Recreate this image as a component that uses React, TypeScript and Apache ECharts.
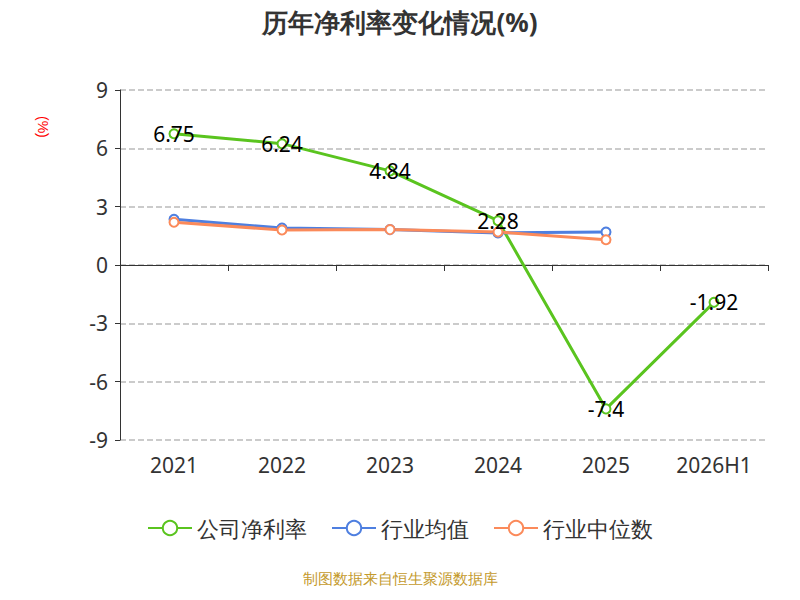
import React, { useEffect, useRef } from "react";
import * as echarts from "echarts";

const years = ["2021", "2022", "2023", "2024", "2025", "2026H1"];
const companyRate = [6.75, 6.24, 4.84, 2.28, -7.4, -1.92];
const industryAvg = [2.35, 1.9, 1.82, 1.65, 1.7];
const industryMedian = [2.2, 1.8, 1.82, 1.7, 1.3];

const style = { width: "784px", height: "584px" };

const mkLine = (name: string, data: number[], color: string) => ({
  name,
  type: "line",
  data,
  color,
  symbol: "circle",
  symbolSize: 9,
  lineStyle: { width: 3, color },
  itemStyle: { color: "#fff", borderColor: color, borderWidth: 2 },
});

const App: React.FC = () => {
  const chartRef = useRef<HTMLDivElement>(null);

  useEffect(() => {
    if (!chartRef.current) return;
    const myChart = echarts.init(chartRef.current, null, { renderer: "svg" });
    const option = {
      animation: false,
      textStyle: { fontFamily: "'Noto Sans', sans-serif" },
      title: {
        text: "历年净利率变化情况(%)",
        left: "center",
        top: -4,
        textStyle: { fontSize: 26, fontWeight: "bold", color: "#333" },
      },
      legend: {
        bottom: 48,
        itemWidth: 44,
        itemHeight: 18,
        itemGap: 24,
        textStyle: { fontSize: 22, color: "#333" },
        data: ["公司净利率", "行业均值", "行业中位数"],
      },
      graphic: [
        {
          type: "text",
          x: 42,
          y: 108,
          rotation: -Math.PI / 2,
          style: { text: "(%)", fill: "red", fontSize: 14 },
        },
        {
          type: "text",
          left: "center",
          bottom: 6,
          style: { text: "制图数据来自恒生聚源数据库", fill: "#c49a2c", fontSize: 15 },
        },
      ],
      grid: { left: 112, right: 24, top: 82, bottom: 152 },
      xAxis: [
        {
          type: "category",
          data: years,
          axisLine: { onZero: true, lineStyle: { color: "#333" } },
          axisTick: { show: true, length: 6 },
          axisLabel: { show: false },
        },
        {
          type: "category",
          data: years,
          position: "bottom",
          axisLine: { show: false },
          axisTick: { show: false },
          axisLabel: { fontSize: 21, color: "#333", margin: 14 },
        },
      ],
      yAxis: {
        type: "value",
        min: -9,
        max: 9,
        interval: 3,
        axisLine: { show: true, lineStyle: { color: "#333" } },
        axisTick: { show: true },
        axisLabel: { fontSize: 21, color: "#333", margin: 12 },
        splitLine: { lineStyle: { type: "dashed", color: "#bbb", width: 1.5 } },
      },
      series: [
        {
          ...mkLine("公司净利率", companyRate, "#5ac41f"),
          label: { show: true, position: "inside", fontSize: 21, color: "#000" },
          z: 3,
        },
        mkLine("行业均值", industryAvg, "#4e7fe0"),
        mkLine("行业中位数", industryMedian, "#fb8a5a"),
      ],
    };
    myChart.setOption(option);
    return () => {
      myChart.dispose();
    };
  }, []);

  return <div ref={chartRef} style={style} />;
};

export default App;
